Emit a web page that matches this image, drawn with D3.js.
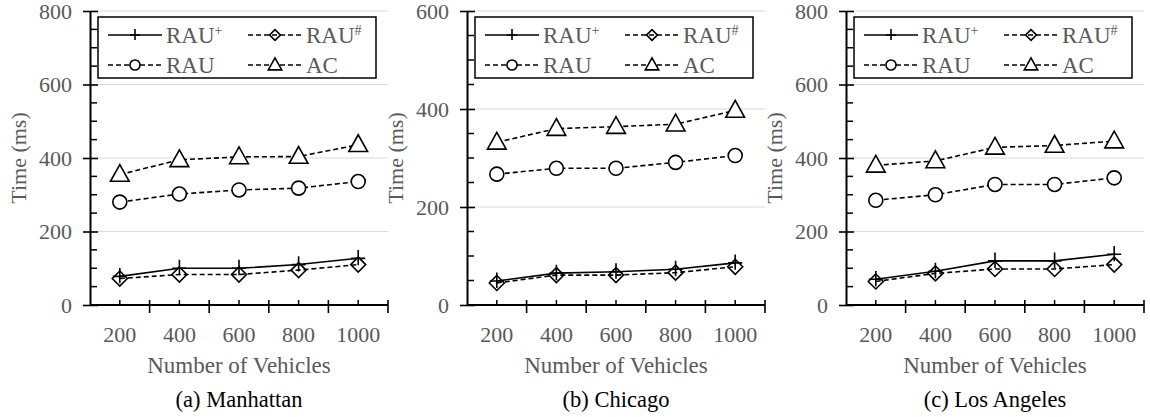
<!DOCTYPE html>
<html>
<head>
<meta charset="utf-8">
<script src="https://cdnjs.cloudflare.com/ajax/libs/d3/7.8.5/d3.min.js"></script>
<style>
  body { margin: 0; background: #fff; }
  svg { display: block; }
  text { font-family: "Liberation Serif", serif; }
</style>
</head>
<body>
<svg width="1150" height="417"></svg>
<script>
// vehicles on the x axis
var vehicles = ["200", "400", "600", "800", "1000"];

// Manhattan
var manRAUplus = [78, 100, 100, 110, 127];
var manRAUsharp = [72, 83, 83, 95, 110];
var manRAU = [280, 302, 313, 318, 336];
var manAC = [355, 395, 403, 404, 436];

// Chicago
var chiRAUplus = [49, 65, 68, 73, 86];
var chiRAUsharp = [45, 61, 61, 66, 78];
var chiRAU = [267, 279, 279, 291, 305];
var chiAC = [332, 360, 364, 369, 397];

// Los Angeles
var laRAUplus = [70, 92, 120, 120, 138];
var laRAUsharp = [64, 86, 98, 98, 110];
var laRAU = [285, 300, 328, 328, 346];
var laAC = [380, 392, 429, 434, 446];

var manTicks = [0, 200, 400, 600, 800];
var chiTicks = [0, 200, 400, 600];
var laTicks = [0, 200, 400, 600, 800];

var svg = d3.select("svg");
var gray = "#595959";
var serif = "Liberation Serif";

var top_ = 11, bottom = 305, plotW = 298;

function marker(g, type, x, y, s) {
    if (type == "circle") {
        g.append("circle").attr("cx", x).attr("cy", y).attr("r", s * 0.5)
            .attr("fill", "#fff").attr("stroke", "#000").attr("stroke-width", 1.6);
    } else if (type == "triangle") {
        var h = s * 0.95;
        g.append("path")
            .attr("d", "M" + x + "," + (y - h * 0.62) + "L" + (x + s * 0.55) + "," + (y + h * 0.42) +
                "L" + (x - s * 0.55) + "," + (y + h * 0.42) + "Z")
            .attr("fill", "#fff").attr("stroke", "#000").attr("stroke-width", 1.6);
    } else if (type == "diamond") {
        var d = s * 0.5;
        g.append("path")
            .attr("d", "M" + x + "," + (y - d) + "L" + (x + d) + "," + y + "L" + x + "," + (y + d) + "L" + (x - d) + "," + y + "Z")
            .attr("fill", "none").attr("stroke", "#000").attr("stroke-width", 1.6);
    } else if (type == "plus") {
        var p = s * 0.5;
        g.append("path")
            .attr("d", "M" + (x - p) + "," + y + "H" + (x + p) + "M" + x + "," + (y - p * 1.2) + "V" + (y + p))
            .attr("fill", "none").attr("stroke", "#000").attr("stroke-width", 1.6);
    }
}

function drawPanel(x0, maxY, ticks, series, caption) {
    var g = svg.append("g").attr("transform", "translate(" + x0 + ",0)");

    var x = d3.scaleBand().domain(vehicles).range([0, plotW]);
    var y = d3.scaleLinear().domain([0, maxY]).range([bottom, top_]);

    // gridlines
    g.selectAll(".grid").data(ticks.slice(1)).enter().append("line")
        .attr("x1", 0).attr("x2", plotW)
        .attr("y1", function(d) { return y(d); })
        .attr("y2", function(d) { return y(d); })
        .attr("stroke", "#d9d9d9").attr("stroke-width", 1.2);

    // minor y ticks every 50
    var minor = d3.range(50, maxY, 50).filter(function(v) { return v % 200 != 0; });
    g.selectAll(".ymin").data(minor).enter().append("line")
        .attr("x1", 0).attr("x2", 7)
        .attr("y1", function(d) { return y(d); })
        .attr("y2", function(d) { return y(d); })
        .attr("stroke", "#000").attr("stroke-width", 1.5);

    // y axis
    var yAxis = d3.axisLeft(y).tickValues(ticks).tickSizeInner(7).tickSizeOuter(0).tickPadding(11);
    var ya = g.append("g").call(yAxis).attr("font-family", serif);
    ya.select(".domain").attr("stroke-width", 2);
    ya.selectAll(".tick line").attr("x2", 8).attr("x1", -7).attr("stroke-width", 1.6);
    ya.selectAll(".tick text").attr("font-size", 22).attr("fill", gray)
        .attr("font-family", serif).attr("x", -18);

    // x axis
    var xa = g.append("g").attr("transform", "translate(0," + bottom + ")")
        .call(d3.axisBottom(x).tickSize(0).tickPadding(21)).attr("font-family", serif);
    xa.select(".domain").attr("d", "M0,0H" + plotW).attr("stroke-width", 2);
    xa.selectAll(".tick text").attr("font-size", 22).attr("fill", gray)
        .attr("font-family", serif);
    // boundary ticks
    var bounds = vehicles.slice(1).map(function(v) { return x(v); }).concat([plotW]);
    xa.selectAll(".xmaj").data(bounds).enter().append("line")
        .attr("x1", function(d) { return d; }).attr("x2", function(d) { return d; })
        .attr("y1", -5).attr("y2", 8).attr("stroke", "#000").attr("stroke-width", 1.6);
    xa.selectAll(".xmin").data(vehicles).enter().append("line")
        .attr("x1", function(d) { return x(d) + x.bandwidth() / 2; })
        .attr("x2", function(d) { return x(d) + x.bandwidth() / 2; })
        .attr("y1", -5).attr("y2", 0).attr("stroke", "#000").attr("stroke-width", 1.5);

    // lines + markers
    var cx = function(i) { return x(vehicles[i]) + x.bandwidth() / 2; };
    var line = d3.line().x(function(d, i) { return cx(i); }).y(function(d) { return y(d); });
    series.forEach(function(s) {
        g.append("path").datum(s.values).attr("d", line)
            .attr("fill", "none").attr("stroke", "#000").attr("stroke-width", 1.6)
            .attr("stroke-dasharray", s.dash ? "5,3" : null);
    });
    series.forEach(function(s) {
        s.values.forEach(function(v, i) { marker(g, s.marker, cx(i), y(v), s.size); });
    });

    // legend
    var lg = g.append("g").attr("transform", "translate(8,17)");
    lg.append("rect").attr("width", 278).attr("height", 61)
        .attr("fill", "#fff").attr("stroke", "#000").attr("stroke-width", 1.5);
    var pos = [[10, 18], [150, 18], [10, 48], [150, 48]];
    series.slice().sort(function(a, b) { return a.order - b.order; }).forEach(function(s, k) {
        var p = pos[k];
        lg.append("line").attr("x1", p[0]).attr("x2", p[0] + 54).attr("y1", p[1]).attr("y2", p[1])
            .attr("stroke", "#000").attr("stroke-width", 1.6)
            .attr("stroke-dasharray", s.dash ? "5,3" : null);
        marker(lg, s.marker, p[0] + 27, p[1], s.size * 0.72);
        var t = lg.append("text").attr("x", p[0] + 58).attr("y", p[1]).attr("dy", "0.35em")
            .attr("font-family", serif).attr("font-size", 23).attr("fill", gray).text(s.name);
        if (s.sup) {
            t.append("tspan").attr("font-size", 14).attr("dy", "-0.55em").text(s.sup);
        }
    });

    // axis titles
    g.append("text").attr("transform", "translate(-72," + ((top_ + bottom) / 2) + ") rotate(-90)")
        .attr("text-anchor", "middle").attr("dy", "0.35em").attr("font-family", serif)
        .attr("font-size", 22).attr("fill", gray).text("Time (ms)");
    g.append("text").attr("x", plotW / 2).attr("y", 373).attr("text-anchor", "middle")
        .attr("font-family", serif).attr("font-size", 23).attr("fill", gray).text("Number of Vehicles");
    g.append("text").attr("x", plotW / 2).attr("y", 407).attr("text-anchor", "middle")
        .attr("font-family", serif).attr("font-size", 22.5).attr("fill", "#000").text(caption);
}

function makeSeries(plus, sharp, rau, ac) {
    return [
        {name: "AC", values: ac, marker: "triangle", dash: true, size: 17, order: 3},
        {name: "RAU", values: rau, marker: "circle", dash: true, size: 14, order: 2},
        {name: "RAU", sup: "#", values: sharp, marker: "diamond", dash: true, size: 15, order: 1},
        {name: "RAU", sup: "+", values: plus, marker: "plus", dash: false, size: 14, order: 0}
    ];
}

drawPanel(90, 800, manTicks, makeSeries(manRAUplus, manRAUsharp, manRAU, manAC), "(a) Manhattan");
drawPanel(467, 600, chiTicks, makeSeries(chiRAUplus, chiRAUsharp, chiRAU, chiAC), "(b) Chicago");
drawPanel(846, 800, laTicks, makeSeries(laRAUplus, laRAUsharp, laRAU, laAC), "(c) Los Angeles");
</script>
</body>
</html>
